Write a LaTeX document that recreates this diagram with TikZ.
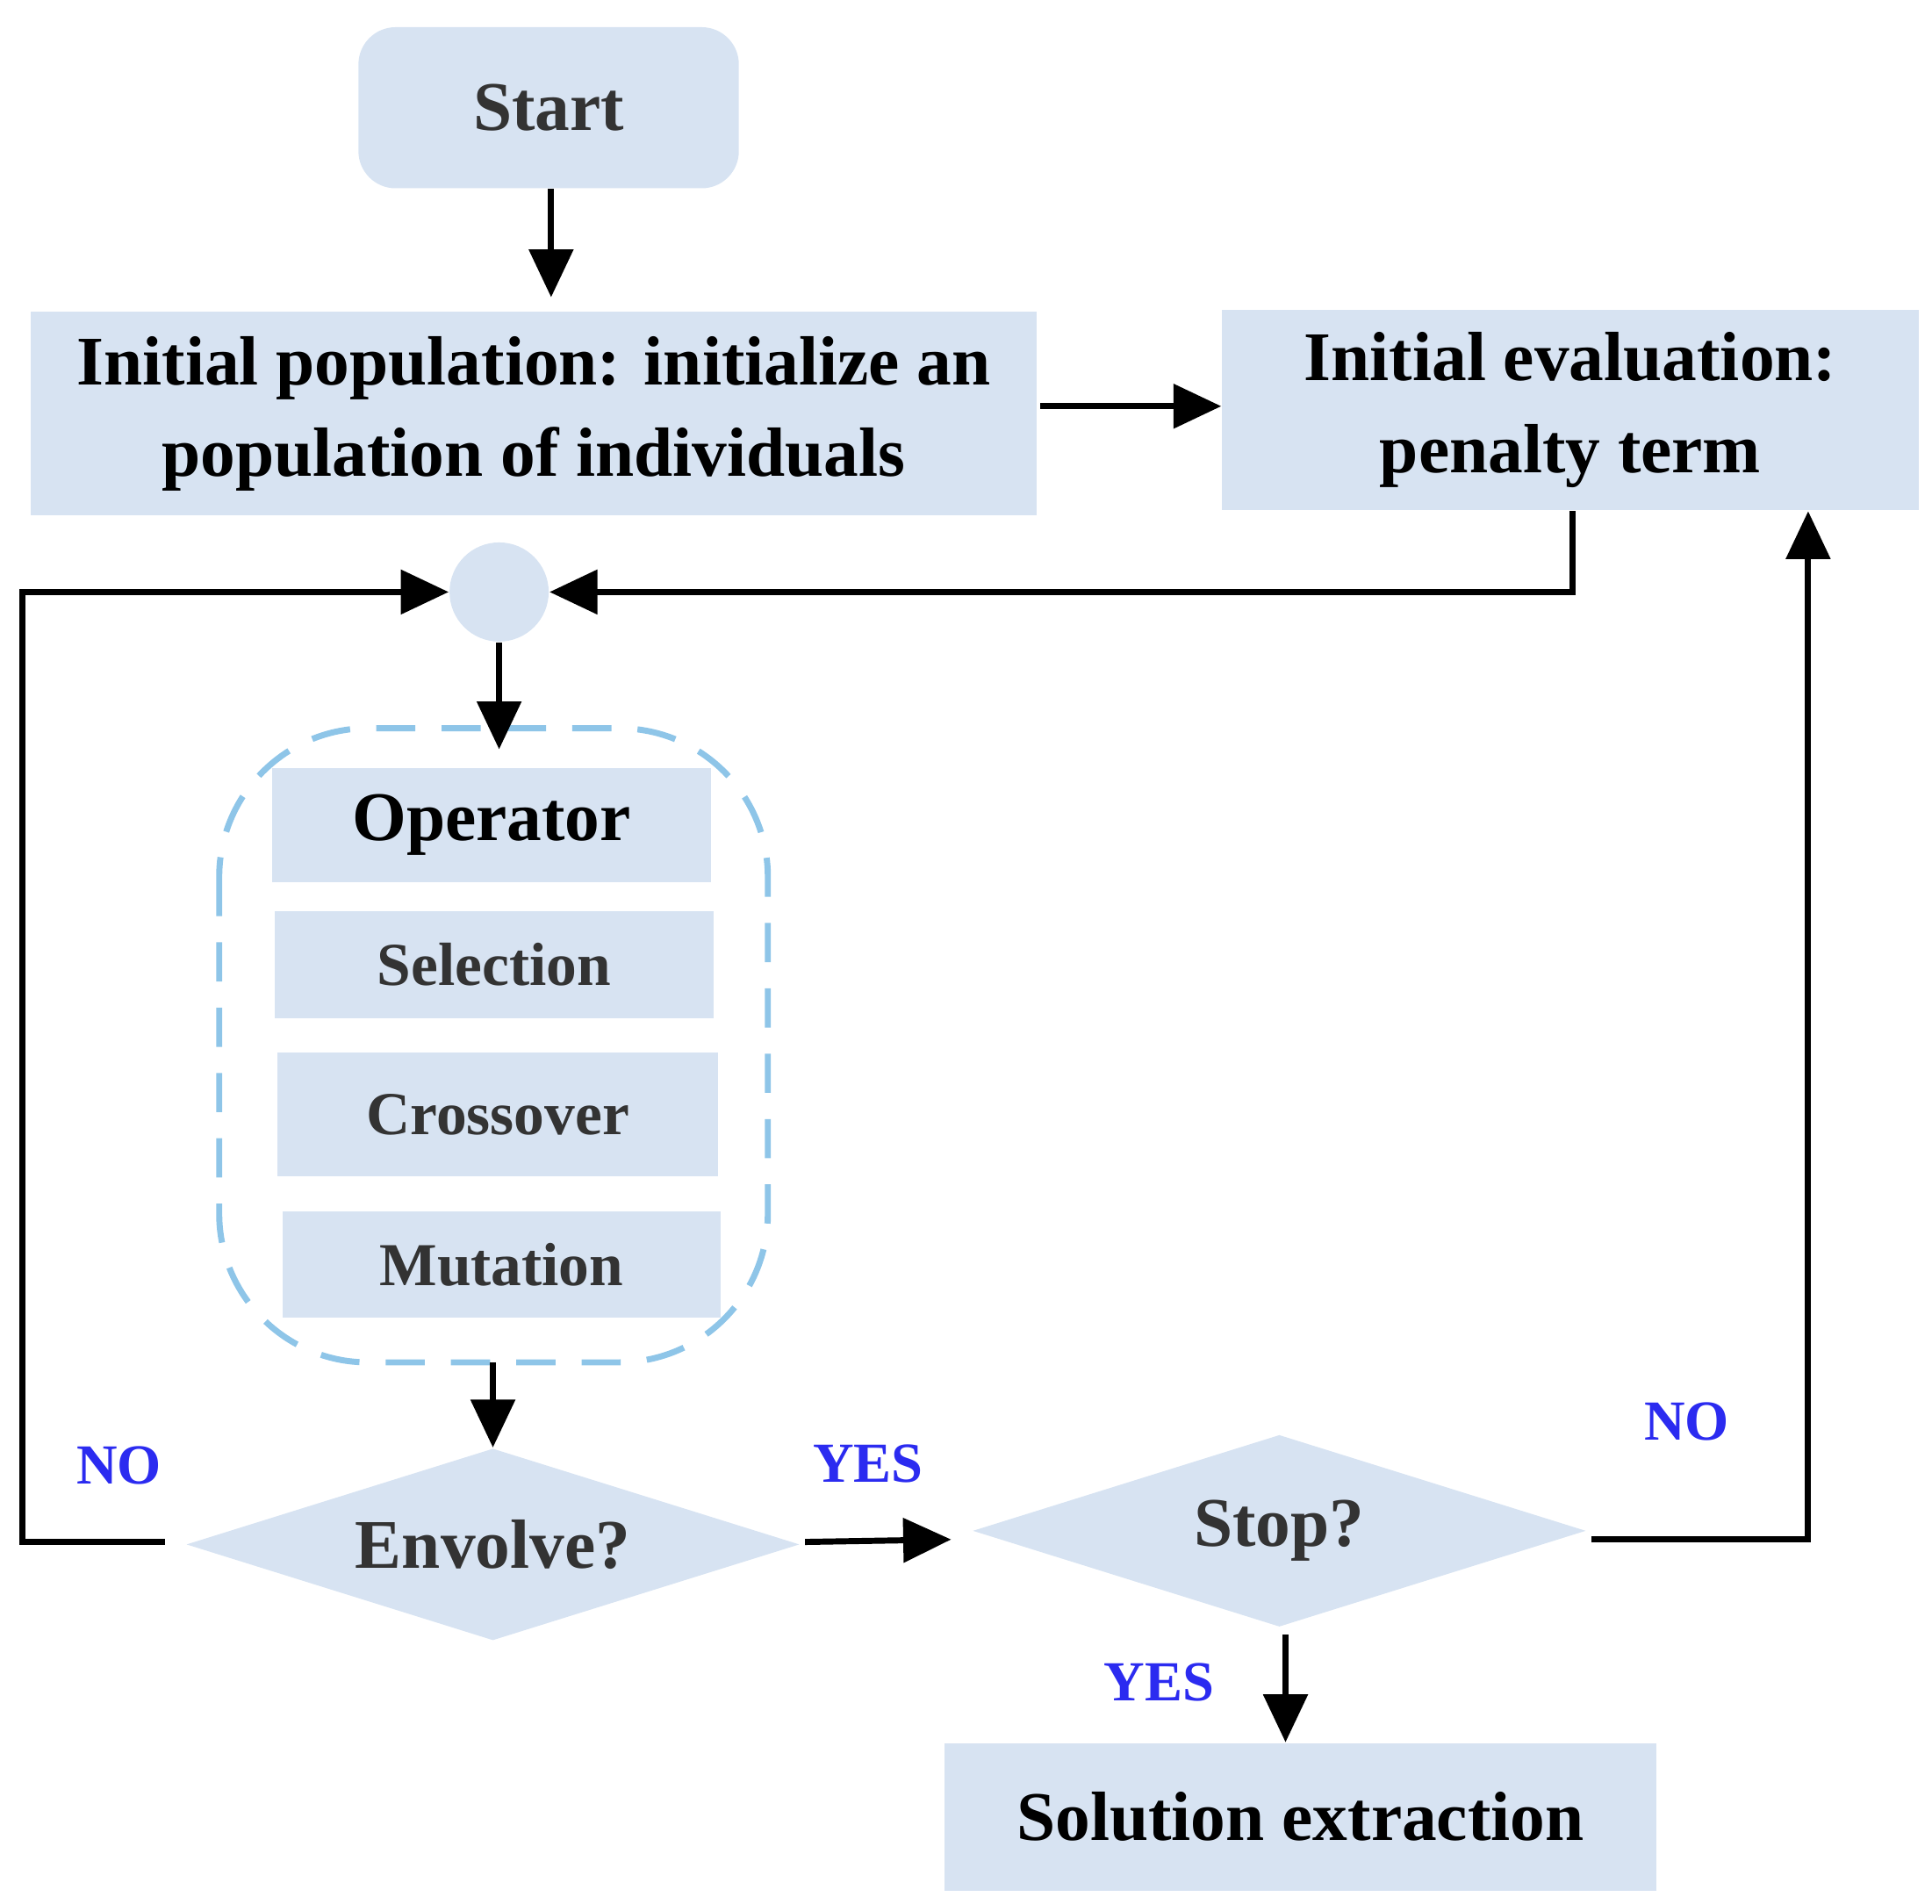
\documentclass[tikz,border=0pt]{standalone}
\usepackage{fontspec}
\setmainfont{Liberation Serif}
\usetikzlibrary{shapes.geometric,arrows.meta}
\definecolor{boxfill}{HTML}{D7E3F2}
\definecolor{dashblue}{HTML}{8EC5E8}
\definecolor{txtgray}{HTML}{333333}
\definecolor{answer}{HTML}{2B2BF0}
\begin{document}
\begin{tikzpicture}[x=0.01cm, y=-0.01cm,
    box/.style={fill=boxfill, inner sep=0pt, align=center, font=\bfseries\fontsize{16}{21}\selectfont, text=black},
    op/.style={box, font=\bfseries\fontsize{14}{17}\selectfont, text=txtgray},
    test/.style={diamond, aspect=3.2, fill=boxfill, inner sep=0pt, font=\bfseries\fontsize{16}{20}\selectfont, text=txtgray, minimum width=4.95cm, minimum height=1.55cm},
    answer/.style={text=answer, font=\bfseries\fontsize{13}{16}\selectfont},
    flow/.style={line width=1.4pt, -{Triangle[length=11pt, width=10pt]}}]
\useasboundingbox (0,0) rectangle (1560,1537);
\node[box, rounded corners=0.3cm, text=txtgray, minimum width=3.07cm, minimum height=1.3cm] (start) at (443,87) {Start};
\node[box, minimum width=8.12cm, minimum height=1.64cm] (init pop) at (431,334) {Initial population: initialize an\\population of individuals};
\node[box, minimum width=5.62cm, minimum height=1.62cm] (init eval) at (1268,331) {Initial evaluation:\\penalty term};
\node[circle, fill=boxfill, minimum size=0.8cm, inner sep=0pt] (join) at (403,478) {};
\draw[dashblue, line width=1.4pt, dash pattern=on 9pt off 6pt, rounded corners=1.2cm] (177,588) rectangle (620,1100);
\node[box, minimum width=3.54cm, minimum height=0.92cm] (operator) at (397,666) {Operator};
\node[op, minimum width=3.54cm, minimum height=0.86cm] (selection) at (399,779) {Selection};
\node[op, minimum width=3.56cm, minimum height=1.0cm] (crossover) at (402,900) {Crossover};
\node[op, minimum width=3.54cm, minimum height=0.86cm] (mutation) at (405,1021) {Mutation};
\node[test] (envolve) at (398,1247) {Envolve?};
\node[test] (stop) at (1033,1236) {Stop?};
\node[box, minimum width=5.74cm, minimum height=1.19cm] (solution) at (1050,1467) {Solution extraction};
\coordinate (op top) at (403,605);
\coordinate (op bottom) at (398,1100);
\coordinate (left corner) at (18,1245);
\coordinate (right corner) at (1460,1243);
\draw[flow] (start.south -| 445,0) -- (445,240);
\draw[flow] (840,328) -- (init eval.west |- 0,328);
\draw[flow] (init eval.south -| 1270,0) |- (join.east);
\draw[flow] (join.south) -- (op top);
\draw[flow] (op bottom) -- (envolve.north);
\draw[flow] (650,1245) -- (768,1243);
\draw[flow] (133,1245) -- (left corner) |- (join.west);
\draw[flow] (1285,1243) -- (right corner) -- (init eval.south -| right corner);
\draw[flow] (1038,1320) -- (solution.north -| 1038,0);
\node[answer] (yes envolve) at (701,1182) {YES};
\node[answer] (no envolve) at (96,1183) {NO};
\node[answer] (no stop) at (1362,1148) {NO};
\node[answer] (yes stop) at (936,1358) {YES};
\end{tikzpicture}
\end{document}
